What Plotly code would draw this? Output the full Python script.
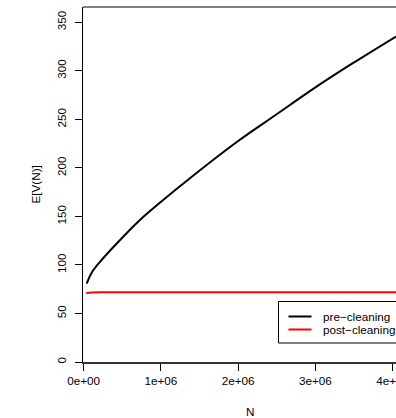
import plotly.graph_objects as go

# Data
n_pre = [38800, 107000, 220000, 409000, 728000, 978000, 1440000, 2013000, 2475000, 3048000, 3484000, 4043000]
v_pre = [80.8, 92.5, 104.0, 120.6, 146.4, 163.6, 193.5, 228.5, 254.0, 285.5, 307.9, 335.4]
n_post = [34000, 100000, 300000, 1000000, 2000000, 3000000, 4043000]
v_post = [71.2, 71.7, 71.9, 72.0, 72.0, 72.0, 72.0]

x_ticks = [0, 1000000, 2000000, 3000000, 4000000]
x_tick_labels = ["0e+00", "1e+06", "2e+06", "3e+06", "4e+06"]
y_ticks = [0, 50, 100, 150, 200, 250, 300, 350]
legend_labels = ["pre\u2212cleaning", "post\u2212cleaning"]
series_colors = ["black", "#ff0000"]

# The original figure is wider than the window; the window crops its right side.
W, H = 440, 418
L, R, T, B = 83, 23, 7, 56
pw, ph = W - L - R, H - T - B

def px(xp):
    return (xp - L) / pw

def py(yp):
    return (H - B - yp) / ph

FONT = "Liberation Sans, Arial, Helvetica, sans-serif"
FS = 11.7

fig = go.Figure()
fig.add_trace(go.Scatter(x=n_pre, y=v_pre, mode="lines", line=dict(color=series_colors[0], width=2, shape="spline"),
                         showlegend=False, name=legend_labels[0]))
fig.add_trace(go.Scatter(x=n_post, y=v_post, mode="lines", line=dict(color=series_colors[1], width=2, shape="spline"),
                         showlegend=False, name=legend_labels[1]))

fig.update_layout(
    template="none",
    width=W, height=H,
    margin=dict(l=L, r=R, t=T, b=B, pad=0, autoexpand=False),
    paper_bgcolor="white", plot_bgcolor="white",
    font=dict(family=FONT, size=FS, color="black"),
    showlegend=False,
    xaxis=dict(range=[-9000, 4315000], tickvals=x_ticks, ticktext=x_tick_labels,
               ticks="outside", ticklen=7, tickwidth=1, tickcolor="black",
               showline=True, linecolor="#333333", linewidth=1.5, mirror=False,
               showgrid=False, zeroline=False, tickfont=dict(size=FS), automargin=False,
               ticklabeloverflow="allow"),
    yaxis=dict(range=[0, 365.8], tickvals=y_ticks, tickangle=-90,
               ticks="outside", ticklen=7, tickwidth=1, tickcolor="black",
               showline=True, linecolor="black", linewidth=1, mirror=False,
               showgrid=False, zeroline=False, tickfont=dict(size=FS),
               ticklabelstandoff=4, automargin=False),
)

# top border of the plot box
fig.add_shape(type="line", xref="paper", yref="paper", x0=0, x1=1, y0=1, y1=1,
              line=dict(color="black", width=1))

# axis titles
fig.add_annotation(text="E[V(N)]", xref="paper", yref="paper", x=px(35), y=0.5,
                   textangle=-90, showarrow=False, xanchor="center", yanchor="middle",
                   font=dict(size=FS))
fig.add_annotation(text="N", xref="paper", yref="paper", x=0.5, y=py(411.5),
                   showarrow=False, xanchor="center", yanchor="middle", font=dict(size=FS))

# legend box (top-right inside the plot, partly cropped by the window)
fig.add_shape(type="rect", xref="paper", yref="paper", x0=px(278.5), x1=px(410),
              y0=py(343), y1=py(301.5), line=dict(color="black", width=1), fillcolor="white")
leg_y = [316.5, 329.5]
for lab, col, yy in zip(legend_labels, series_colors, leg_y):
    fig.add_shape(type="line", xref="paper", yref="paper", x0=px(288.5), x1=px(311.5),
                  y0=py(yy), y1=py(yy), line=dict(color=col, width=2))
    fig.add_annotation(text=lab, xref="paper", yref="paper", x=px(321), y=py(yy),
                       showarrow=False, xanchor="left", yanchor="middle", font=dict(size=FS))

fig.write_html("out.html",
               config={"displayModeBar": False, "staticPlot": True},
               post_script="document.body.style.margin='0';document.body.style.overflow='hidden';"
                           "document.documentElement.style.overflow='hidden';")
